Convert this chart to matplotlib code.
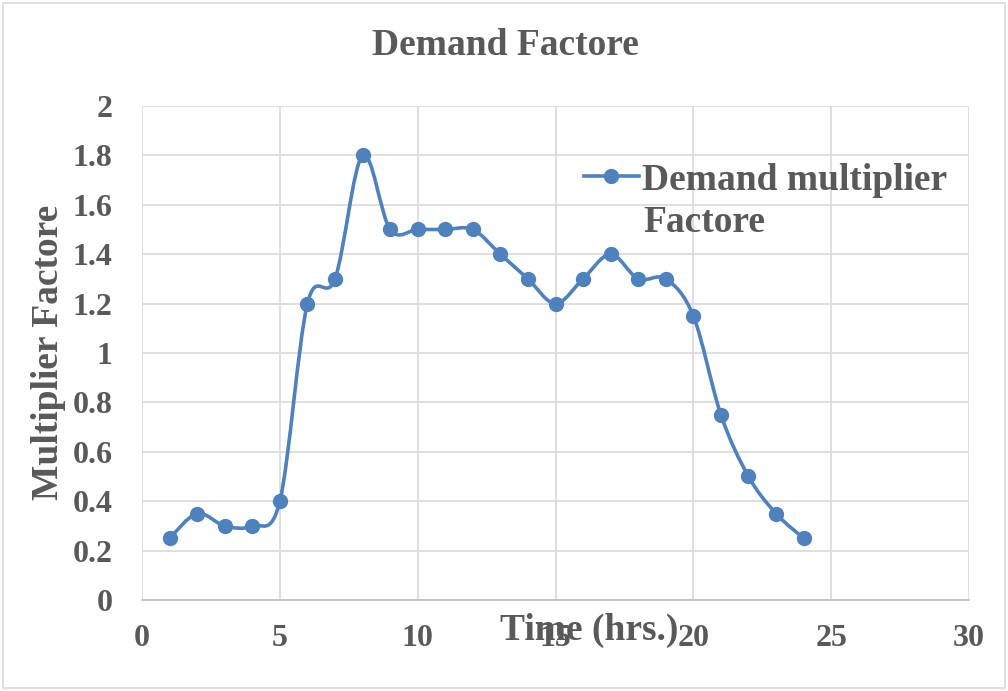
import numpy as np
import matplotlib.pyplot as plt
from matplotlib.path import Path
from matplotlib.patches import PathPatch, Rectangle
from matplotlib.lines import Line2D

plt.rcParams['font.family'] = ['Liberation Serif', 'DejaVu Serif']
plt.rcParams['font.weight'] = 'bold'

hours = [1, 2, 3, 4, 5, 6, 7, 8, 9, 10, 11, 12, 13, 14, 15, 16, 17, 18, 19, 20, 21, 22, 23, 24]
factor = [0.25, 0.35, 0.3, 0.3, 0.4, 1.2, 1.3, 1.8, 1.5, 1.5, 1.5, 1.5,
          1.4, 1.3, 1.2, 1.3, 1.4, 1.3, 1.3, 1.15, 0.75, 0.5, 0.35, 0.25]

blue = '#4F81BD'
gray = '#595959'
grid = '#D9D9D9'


def smooth_path(x, y):
    # cubic bezier through every point (catmull-rom style tangents)
    x = np.asarray(x, float)
    y = np.asarray(y, float)
    pts = np.column_stack([x, y])
    n = len(pts)
    verts = [pts[0]]
    codes = [Path.MOVETO]
    for i in range(n - 1):
        p0 = pts[i - 1] if i > 0 else pts[i]
        p1 = pts[i]
        p2 = pts[i + 1]
        p3 = pts[i + 2] if i + 2 < n else pts[i + 1]
        c1 = p1 + (p2 - p0) / 6.0
        c2 = p2 - (p3 - p1) / 6.0
        verts += [c1, c2, p2]
        codes += [Path.CURVE4] * 3
    return Path(verts, codes)


fig = plt.figure(figsize=(10.08, 6.91), dpi=100)
fig.patches.append(Rectangle((0.003, 0.004), 0.994, 0.992, transform=fig.transFigure,
                             fill=False, edgecolor=grid, linewidth=1.2))

ax = fig.add_axes([0.1409, 0.1317, 0.8204, 0.7149])
ax.set_xlim(0, 30)
ax.set_ylim(0, 2)
ax.set_xticks(range(0, 31, 5))
ax.set_yticks(np.arange(0, 2.01, 0.2))
ax.set_yticklabels(['0', '0.2', '0.4', '0.6', '0.8', '1', '1.2', '1.4', '1.6', '1.8', '2'])
ax.grid(True, color=grid, linewidth=1.2)
ax.set_axisbelow(True)
for side in ['top', 'right', 'left']:
    ax.spines[side].set_visible(False)
ax.spines['bottom'].set_color('#BFBFBF')
ax.spines['bottom'].set_linewidth(1.2)
ax.tick_params(length=0, labelsize=23, labelcolor=gray)
ax.tick_params(axis='x', pad=17)
ax.tick_params(axis='y', pad=21)
for lbl in ax.get_xticklabels() + ax.get_yticklabels():
    lbl.set_fontweight('bold')

ax.add_patch(PathPatch(smooth_path(hours, factor), facecolor='none', edgecolor=blue,
                       linewidth=2.6, zorder=3))
ax.plot(hours, factor, linestyle='none', marker='o', markersize=10, color=blue, zorder=4)

fig.text(0.501, 0.934, 'Demand Factore', ha='center', va='center', fontsize=27,
         fontweight='bold', color=gray)
fig.text(0.048, 0.49, 'Multiplier Factore', ha='center', va='center', rotation=90,
         fontsize=27, fontweight='bold', color=gray)
fig.text(0.585, 0.087, 'Time (hrs.)', ha='center', va='center', fontsize=27,
         fontweight='bold', color=gray)

# legend: handle sits on the first line, second line of the label wraps below
handle = Line2D([], [], color=blue, linewidth=2.6, marker='o', markersize=10)
ax.legend([handle], ['Demand multiplier'], loc='center left',
          bbox_to_anchor=(0.534, 0.85), frameon=False,
          prop={'weight': 'bold', 'size': 27}, labelcolor=gray, handlelength=1.47,
          handletextpad=0.08, borderaxespad=0, borderpad=0)
fig.text(643 / 1008, 1 - 222 / 691, 'Factore', ha='left', va='center', fontsize=27,
         fontweight='bold', color=gray)

fig.savefig('out.png', dpi=100)
